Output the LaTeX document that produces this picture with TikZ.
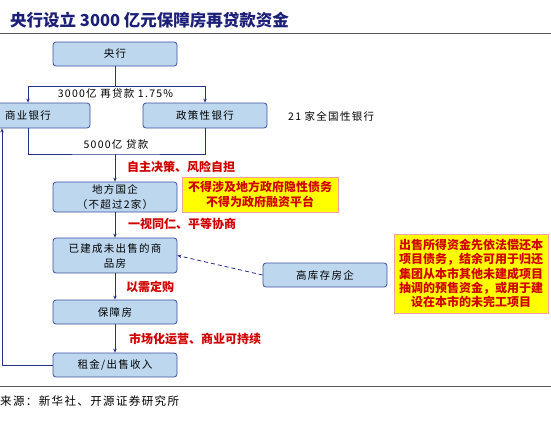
\documentclass[tikz,border=0pt]{standalone}
\usepackage{fontspec}
\setmainfont{Noto Sans CJK SC}
\newfontfamily\boxfont[LetterSpace=12]{Noto Sans CJK SC}
\usetikzlibrary{arrows.meta}
\definecolor{navy}{HTML}{26318C}
\definecolor{boxblue}{HTML}{BDD7EE}
\definecolor{boxedge}{HTML}{3F51A3}
\definecolor{redtxt}{HTML}{D00000}
\definecolor{notebg}{HTML}{FFFF00}
\definecolor{noteedge}{HTML}{F4A0A0}
\definecolor{titleblue}{HTML}{1C1F78}
\tikzset{
  flowbox/.style={draw=boxedge,fill=boxblue,rounded corners=3pt,line width=0.8pt,minimum width=124pt,minimum height=24pt,inner sep=0pt,align=center,font=\boxfont\fontsize{10.5}{15}\selectfont},
  conn/.style={draw=navy,line width=0.8pt},
  arr/.style={conn,-{Stealth[length=4pt,width=3.5pt]}},
  redlabel/.style={anchor=west,inner sep=0pt,text=redtxt,font=\bfseries\fontsize{12}{14}\selectfont},
  plainlabel/.style={inner sep=0pt,font=\boxfont\fontsize{10.5}{12}\selectfont},
  notebox/.style={draw=noteedge,fill=notebg,line width=0.8pt,inner sep=0pt,align=center,text=redtxt,font=\bfseries\fontsize{12}{15}\selectfont}
}
\begin{document}
\begin{tikzpicture}[x=1pt,y=-1pt]
  \useasboundingbox (0,0) rectangle (551,424);
  \clip (0,0) rectangle (551,424);
  \node[anchor=west,inner sep=0pt,text=titleblue,font=\bfseries\fontsize{16.5}{20}\selectfont] (title) at (10,20) {央行设立 3000 亿元保障房再贷款资金};
  \draw[gray!70!black,line width=1.2pt] (0,33.5) -- (551,33.5);
  \node[flowbox] (yh) at (115,54) {央行};
  \node[flowbox,minimum height=25pt] (syyh) at (28,115.5) {商业银行};
  \node[flowbox,minimum height=25pt] (zcyh) at (205,115.5) {政策性银行};
  \node[plainlabel] (rate) at (115.5,94) {3000亿 再贷款 1.75\%};
  \node[plainlabel,anchor=west] (gh) at (288,116) {21 家全国性银行};
  \node[plainlabel] (dk) at (116,145) {5000亿 贷款};
  \node[flowbox,minimum height=30pt] (dfgq) at (115,197) {地方国企\\（不超过2家）};
  \node[redlabel] (zz) at (127,167) {自主决策、风险自担};
  \node[notebox,minimum width=156pt,minimum height=35pt] (n1) at (260,194.5) {不得涉及地方政府隐性债务\\不得为政府融资平台};
  \node[redlabel] (ys) at (128,224) {一视同仁、平等协商};
  \node[flowbox,minimum height=35pt] (yjc) at (115,255.5) {已建成未出售的商\\品房};
  \node[flowbox] (gkc) at (325,275) {高库存房企};
  \node[notebox,minimum width=154pt,minimum height=79pt,font=\bfseries\fontsize{12}{14.3}\selectfont] (n2) at (471,273.5) {出售所得资金先依法偿还本\\项目债务，结余可用于归还\\集团从本市其他未建成项目\\抽调的预售资金，或用于建\\设在本市的未完工项目};
  \node[redlabel] (yx) at (126,287) {以需定购};
  \node[flowbox] (bzf) at (115,312) {保障房};
  \node[redlabel] (sc) at (129,339) {市场化运营、商业可持续};
  \node[flowbox] (zj) at (115,365) {租金/出售收入};
  \coordinate (split) at (115,86);
  \coordinate (join) at (115,154);
  \coordinate (back) at (2,365);
  \draw[conn] (yh) -- (split);
  \draw[arr] (split) -| (syyh);
  \draw[arr] (split) -| (zcyh);
  \draw[conn] (syyh) |- (join) -| (zcyh);
  \draw[arr] (join) -- (dfgq);
  \draw[arr] (dfgq) -- (yjc);
  \draw[arr] (yjc) -- (bzf);
  \draw[arr] (bzf) -- (zj);
  \draw[arr] (zj.west) -- (back) -- (back |- syyh.south);
  \draw[arr,dash pattern=on 4pt off 3pt] (gkc.west) -- (yjc.east);
  \draw[gray!70!black,line width=1pt] (0,386.5) -- (551,386.5);
  \node[anchor=west,inner sep=0pt,font=\boxfont\fontsize{11.5}{14}\selectfont] (src) at (0,401) {来源：新华社、开源证券研究所};
\end{tikzpicture}
\end{document}
